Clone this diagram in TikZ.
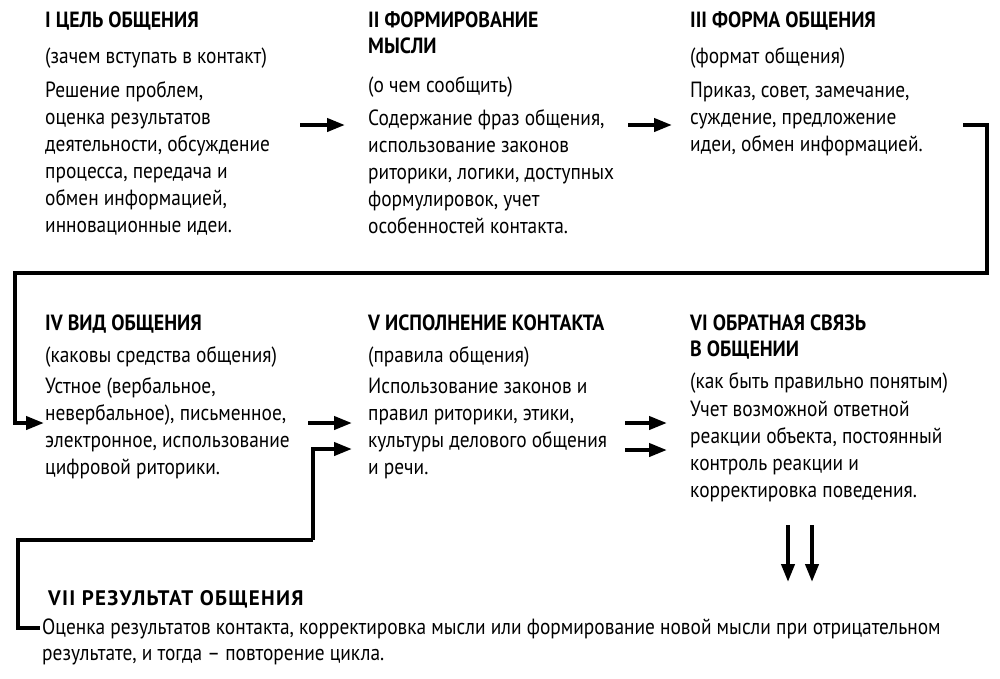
\documentclass[tikz,border=0pt]{standalone}
\usepackage{fontspec}
\setmainfont{PT Sans}[FakeStretch=0.88]
\newfontfamily\headfont{PT Sans}[FakeStretch=0.9]
\newfontfamily\wideheadfont{PT Sans}[LetterSpace=6]
\usetikzlibrary{arrows.meta}
\newcommand\blocktext[1]{\parbox[t]{960pt}{\raggedright #1}}
\begin{document}
\begin{tikzpicture}[x=1pt,y=-1pt,
  txt/.style={anchor=base west,inner sep=0pt,font=\fontsize{22}{27}\selectfont},
  hd/.style={anchor=base west,inner sep=0pt,font=\headfont\bfseries\fontsize{22}{26.5}\selectfont},
  conn/.style={line width=4pt,-{Triangle[length=18pt,width=13pt]}},
  wire/.style={line width=4pt}]
\useasboundingbox (0,0) rectangle (1000,678);
% row 1
\node[hd]  (h1) at (45,27)  {I ЦЕЛЬ ОБЩЕНИЯ};
\node[txt] (p1) at (45,63)  {(зачем вступать в контакт)};
\node[txt] (b1) at (45,97)  {\blocktext{Решение проблем,\\оценка результатов\\деятельности, обсуждение\\процесса, передача и\\обмен информацией,\\инновационные идеи.}};
\node[hd]  (h2) at (368,27) {\blocktext{II ФОРМИРОВАНИЕ\\МЫСЛИ}};
\node[txt] (p2) at (368,92) {(о чем сообщить)};
\node[txt] (b2) at (368,125) {\blocktext{Содержание фраз общения,\\использование законов\\риторики, логики, доступных\\формулировок, учет\\особенностей контакта.}};
\node[hd]  (h3) at (690,27) {III ФОРМА ОБЩЕНИЯ};
\node[txt] (p3) at (690,63) {(формат общения)};
\node[txt] (b3) at (690,97) {\blocktext{Приказ, совет, замечание,\\суждение, предложение\\идеи, обмен информацией.}};
% row 2
\node[hd]  (h4) at (45,330) {IV ВИД ОБЩЕНИЯ};
\node[txt] (p4) at (45,362) {(каковы средства общения)};
\node[txt] (b4) at (45,393) {\blocktext{Устное (вербальное,\\невербальное), письменное,\\электронное, использование\\цифровой риторики.}};
\node[hd]  (h5) at (368,330) {V ИСПОЛНЕНИЕ КОНТАКТА};
\node[txt] (p5) at (368,362) {(правила общения)};
\node[txt] (b5) at (368,393) {\blocktext{Использование законов и\\правил риторики, этики,\\культуры делового общения\\и речи.}};
\node[hd]  (h6) at (690,330) {\blocktext{VI ОБРАТНАЯ СВЯЗЬ\\В ОБЩЕНИИ}};
\node[txt] (p6) at (690,388) {(как быть правильно понятым)};
\node[txt] (b6) at (690,416) {\blocktext{Учет возможной ответной\\реакции объекта, постоянный\\контроль реакции и\\корректировка поведения.}};
% row 3
\node[hd,font=\wideheadfont\bfseries\fontsize{21}{26}\selectfont]  (h7) at (48,605) {VII РЕЗУЛЬТАТ ОБЩЕНИЯ};
\node[txt,font=\fontsize{22}{26}\selectfont] (b7) at (42,634) {\blocktext{Оценка результатов контакта, корректировка мысли или формирование новой мысли при отрицательном\\результате, и тогда – повторение цикла.}};
% connector points
\coordinate (a1s) at (300,125); \coordinate (a1e) at (345,125);
\coordinate (a2s) at (628,125); \coordinate (a2e) at (672,125);
\coordinate (r1) at (963,125); \coordinate (r2) at (987,273);
\coordinate (r3) at (15,423); \coordinate (r4) at (44,423);
\coordinate (a3s) at (308,423); \coordinate (a3e) at (352,423);
\coordinate (l1) at (40,628); \coordinate (l2) at (18,628);
\coordinate (l3) at (313,540); \coordinate (l4) at (352,449);
\coordinate (a5s) at (625,423); \coordinate (a5e) at (667,423);
\coordinate (a6s) at (625,450); \coordinate (a6e) at (667,450);
\coordinate (d1s) at (788,525); \coordinate (d1e) at (788,582);
\coordinate (d2s) at (812,525); \coordinate (d2e) at (812,582);
% connectors
\draw[conn] (a1s) -- (a1e);
\draw[conn] (a2s) -- (a2e);
\draw[conn] (r1) -| (r2) -| (r3) -- (r4);
\draw[conn] (a3s) -- (a3e);
\draw[wire] (l1) -- (l2) |- (l3);
\draw[conn] (l3) |- (l4);
\draw[conn] (a5s) -- (a5e);
\draw[conn] (a6s) -- (a6e);
\draw[conn] (d1s) -- (d1e);
\draw[conn] (d2s) -- (d2e);
\end{tikzpicture}
\end{document}
